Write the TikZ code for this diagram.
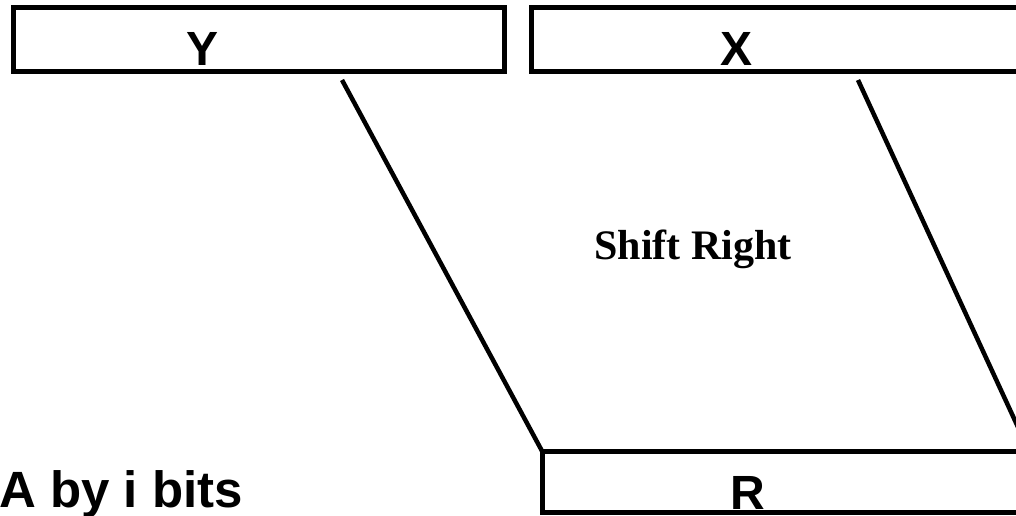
\documentclass[tikz,border=0pt]{standalone}
\usepackage{fontspec}
\setmainfont{Liberation Serif}
\newfontfamily\sansbold{Liberation Sans}
\begin{document}
\begin{tikzpicture}[x=1pt,y=-1pt,
  reg/.style={draw, line width=5pt, inner sep=0pt, outer sep=0pt, anchor=north west},
  wire/.style={line width=4.5pt},
  lab/.style={font=\sansbold\bfseries\fontsize{48}{48}\selectfont, anchor=base, inner sep=0pt},
  note/.style={font=\bfseries\fontsize{42}{42}\selectfont, anchor=base, inner sep=0pt}]
\useasboundingbox (0,0) rectangle (1016,515);
\clip (0,0) rectangle (1016,515);
% registers
\node[reg, minimum width=491pt, minimum height=64pt] (Y) at (13,7) {};
\node[reg, minimum width=520pt, minimum height=64pt] (X) at (531,7) {};
\node[reg, minimum width=487pt, minimum height=61.5pt] (R) at (542,451) {};
% register names
\node[lab] (ylab) at (202.5,65) {Y};
\node[lab] (xlab) at (736,65) {X};
\node[lab] (rlab) at (748,509) {R};
% shifted window
\coordinate (ya) at (342,80);
\coordinate (xa) at (858,80);
\draw[wire] (ya) -- (R.north west);
\draw[wire] (xa) -- (R.north east);
\node[note] (shift) at (693,259) {Shift Right};
% caption
\node[lab, font=\sansbold\bfseries\fontsize{51}{51}\selectfont, anchor=base east] (cap) at (243,507) {Shift A by i bits};
\end{tikzpicture}
\end{document}
